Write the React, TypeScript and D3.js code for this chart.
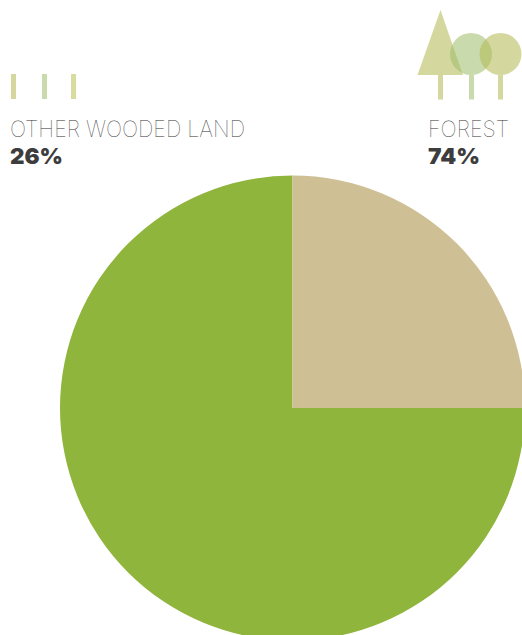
import { useEffect, useRef } from 'react'
import * as d3 from 'd3'

const categories = ['Forest', 'Other wooded land']
// the slices are drawn as 75 / 25 in the original, whatever the labels say
const drawnShares = [75, 25]
const sliceColors = ['#8fb53c', '#cfbf94']

const labelNames = ['OTHER WOODED LAND', 'FOREST']
const labelValues = ['26%', '74%']

const width = 522
const height = 635

export default function App() {
  const svgRef = useRef<SVGSVGElement>(null)

  useEffect(() => {
    if (!svgRef.current) return
    document.body.style.margin = '0'
    document.body.style.overflow = 'hidden'

    const svg = d3.select(svgRef.current)
    svg.selectAll('*').remove()

    // pie starts at 3 o'clock so the small slice ends up top right
    const pie = d3
      .pie<number>()
      .sort(null)
      .startAngle(Math.PI / 2)
      .endAngle(Math.PI / 2 + Math.PI * 2)
    const arc = d3.arc<d3.PieArcDatum<number>>().innerRadius(0).outerRadius(232.5)

    const color = d3.scaleOrdinal<string, string>().domain(categories).range(sliceColors)

    svg
      .append('g')
      .attr('transform', 'translate(292.5,408)')
      .selectAll('path')
      .data(pie(drawnShares))
      .join('path')
      .attr('fill', (_, i) => color(categories[i]))
      .attr('d', arc)

    // tree icon
    const icon = svg.append('g').attr('fill', '#b0b850').attr('fill-opacity', 0.55)
    icon.append('polygon').attr('points', '440.5,10 417.5,75 463,75')
    icon.append('rect').attr('x', 438).attr('y', 75).attr('width', 5).attr('height', 24.5)
    icon
      .append('circle')
      .attr('cx', 471)
      .attr('cy', 54)
      .attr('r', 21)
      .attr('fill', '#9dbd6a')
    icon
      .append('rect')
      .attr('x', 469)
      .attr('y', 75)
      .attr('width', 5)
      .attr('height', 24.5)
      .attr('fill', '#9dbd6a')
    icon.append('circle').attr('cx', 500.5).attr('cy', 54).attr('r', 21)
    icon.append('rect').attr('x', 498).attr('y', 75).attr('width', 5).attr('height', 24.5)

    // the three small bars above the left label
    const bars = svg.append('g').attr('fill-opacity', 0.55)
    bars.append('rect').attr('x', 11).attr('y', 74).attr('width', 5).attr('height', 25).attr('fill', '#b0b850')
    bars.append('rect').attr('x', 42).attr('y', 74).attr('width', 5).attr('height', 25).attr('fill', '#9dbd6a')
    bars.append('rect').attr('x', 71).attr('y', 74).attr('width', 5).attr('height', 25).attr('fill', '#b8bf50')

    // labels
    const nameX = [10, 428]
    const nameLen = [235, 81]
    const valueLen = [53, 52]

    labelNames.forEach((name, i) => {
      svg
        .append('text')
        .attr('x', nameX[i])
        .attr('y', 136.5)
        .attr('font-family', 'Inter, sans-serif')
        .attr('font-weight', 100)
        .attr('font-size', 22.5)
        .attr('fill', '#333333')
        .attr('textLength', nameLen[i])
        .attr('lengthAdjust', 'spacingAndGlyphs')
        .text(name)

      svg
        .append('text')
        .attr('x', nameX[i])
        .attr('y', 164)
        .attr('font-family', 'Inter, sans-serif')
        .attr('font-weight', 900)
        .attr('font-size', 22)
        .attr('fill', '#3d3d3d')
        .attr('textLength', valueLen[i])
        .attr('lengthAdjust', 'spacingAndGlyphs')
        .text(labelValues[i])
    })
  }, [])

  return (
    <svg
      ref={svgRef}
      width={width}
      height={height}
      style={{ position: 'absolute', left: 0, top: 0, background: '#ffffff' }}
    />
  )
}
